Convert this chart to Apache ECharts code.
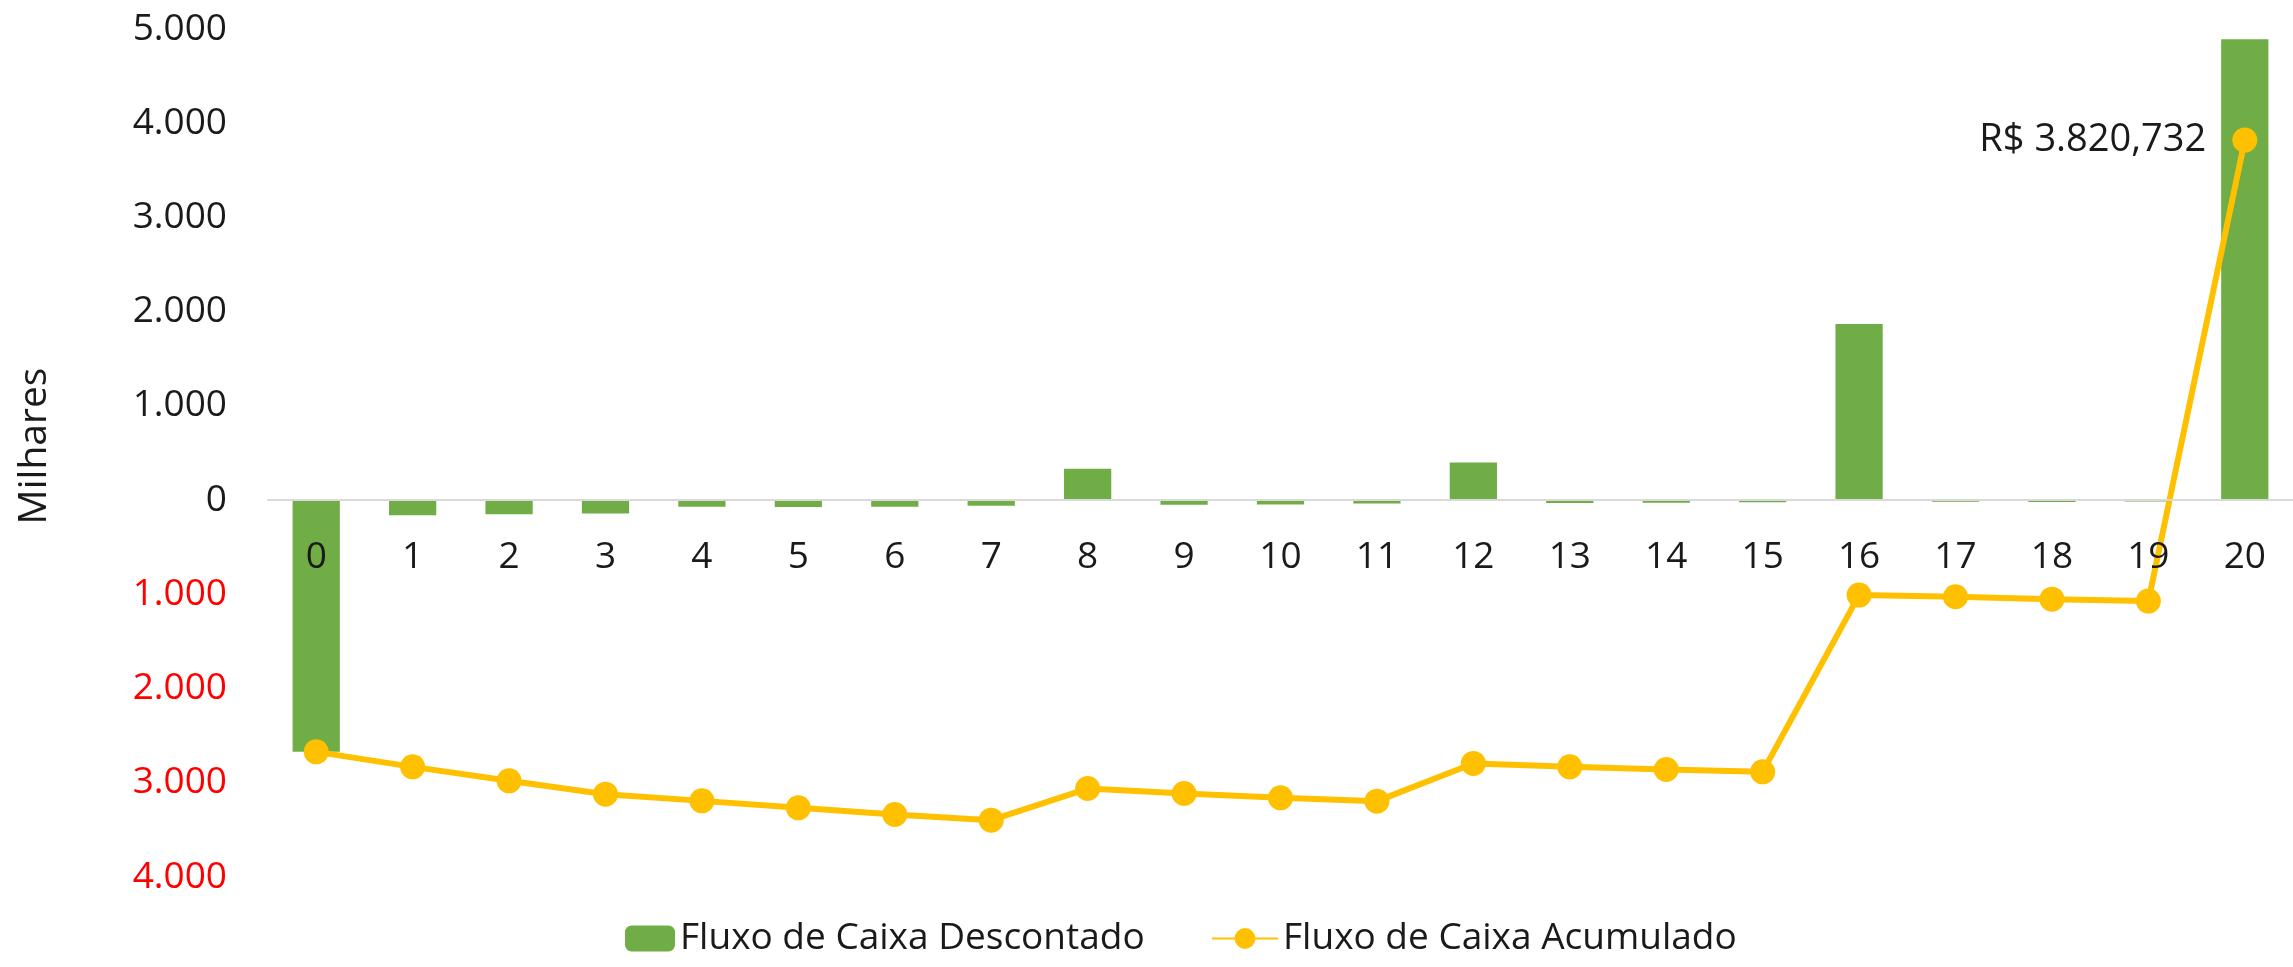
<!DOCTYPE html>
<html>
<head>
<meta charset="utf-8">
<script src="https://cdn.jsdelivr.net/npm/echarts@6/dist/echarts.min.js"></script>
<style>
  html, body { margin: 0; padding: 0; background: #fff; }
  #chart-container { width: 2293px; height: 967px; }
</style>
</head>
<body>
<div id="chart-container"></div>
<script>
// valores em milhares de R$
var periodos = ['0', '1', '2', '3', '4', '5', '6', '7', '8', '9', '10', '11', '12', '13', '14', '15', '16', '17', '18', '19', '20'];
var fluxoDescontado = [-2672, -160, -150, -142, -71, -74, -71, -60, 332, -50, -46, -36, 398, -30, -27, -23, 1870, -18, -21, -16, 4890];
var fluxoAcumulado = [-2672, -2831, -2979, -3121, -3192, -3266, -3337, -3397, -3061, -3114, -3160, -3195, -2795, -2831, -2859, -2884, -1008, -1026, -1051, -1072, 3820.732];
var yTicks = [-4000, -3000, -2000, -1000, 0, 1000, 2000, 3000, 4000, 5000];

var fonte = '"Open Sans", "Liberation Sans", sans-serif';
var gridTop = 29, gridBottom = 90, altura = 967;

function milhar(v) {
    var s = String(Math.round(Math.abs(v)));
    return s.replace(/\B(?=(\d{3})+(?!\d))/g, '.');
}
function reais(v) {
    var partes = Math.abs(v).toFixed(3).split('.');
    var inteiro = partes[0].replace(/\B(?=(\d{3})+(?!\d))/g, '.');
    return (v < 0 ? '-' : '') + 'R$ ' + inteiro + ',' + partes[1];
}

var yMin = yTicks[0], yMax = yTicks[yTicks.length - 1];
// eixo das categorias fica na linha do zero, como no Excel
var alturaGrid = altura - gridTop - gridBottom;
var deslocZero = -alturaGrid * (0 - yMin) / (yMax - yMin);

var ultimo = fluxoAcumulado.length - 1;
var acumuladoData = fluxoAcumulado.map(function (v, i) {
    if (i !== ultimo) return v;
    return {
        value: v,
        label: {
            show: true,
            position: 'left',
            distance: 26,
            color: '#1a1a1a',
            fontSize: 38,
            fontFamily: fonte,
            formatter: function (p) { return reais(p.value); }
        }
    };
});

var legendText = { fontSize: 37, fontFamily: fonte, color: '#1a1a1a' };

var option = {
    animation: false,
    backgroundColor: '#ffffff',
    grid: {
        left: 268,
        right: 0,
        top: gridTop,
        bottom: gridBottom
    },
    legend: [
        {
            bottom: 5,
            left: 620,
            itemWidth: 50,
            itemHeight: 26,
            textStyle: legendText,
            data: ['Fluxo de Caixa Descontado']
        },
        {
            bottom: 5,
            left: 1206,
            itemWidth: 66,
            itemHeight: 26,
            textStyle: legendText,
            data: ['Fluxo de Caixa Acumulado']
        }
    ],
    xAxis: {
        type: 'category',
        data: periodos,
        position: 'bottom',
        offset: deslocZero,
        z: 10,
        axisLine: {
            onZero: false,
            lineStyle: { color: '#D9D9D9', width: 2 }
        },
        axisTick: { show: false },
        axisLabel: {
            interval: 0,
            margin: 39,
            fontSize: 37,
            fontFamily: fonte,
            color: '#1a1a1a'
        }
    },
    yAxis: {
        type: 'value',
        min: yMin,
        max: yMax,
        interval: 1000,
        name: 'Milhares',
        nameLocation: 'middle',
        nameGap: 214,
        nameRotate: 90,
        nameTextStyle: {
            fontSize: 39,
            fontFamily: fonte,
            color: '#1a1a1a',
            padding: [0, 0, 0, 14]
        },
        axisLine: { show: false },
        axisTick: { show: false },
        splitLine: { show: false },
        axisLabel: {
            margin: 41,
            fontSize: 37,
            fontFamily: fonte,
            color: function (v) { return v < 0 ? '#FF0000' : '#1a1a1a'; },
            formatter: function (v) { return milhar(v); }
        }
    },
    series: [
        {
            name: 'Fluxo de Caixa Descontado',
            type: 'bar',
            data: fluxoDescontado,
            barCategoryGap: '51%',
            itemStyle: { color: '#70AD47' }
        },
        {
            name: 'Fluxo de Caixa Acumulado',
            type: 'line',
            data: acumuladoData,
            symbol: 'circle',
            symbolSize: 25,
            z: 5,
            itemStyle: { color: '#FFC000' },
            lineStyle: { color: '#FFC000', width: 6 }
        }
    ]
};

var myChart = echarts.init(document.getElementById('chart-container'));
myChart.setOption(option);
</script>
</body>
</html>
